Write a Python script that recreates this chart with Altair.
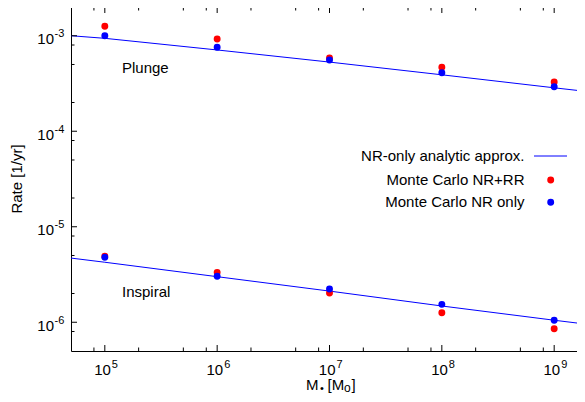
import altair as alt
import pandas as pd

# ---------------- data ----------------
mass = [1e5, 1e6, 1e7, 1e8, 1e9]
plunge_rr = [1.26e-3, 9.25e-4, 5.85e-4, 4.67e-4, 3.28e-4]
plunge_nr = [1.0e-3, 7.57e-4, 5.57e-4, 4.1e-4, 2.93e-4]
inspiral_rr = [4.9e-6, 3.33e-6, 2.02e-6, 1.26e-6, 8.55e-7]
inspiral_nr = [4.79e-6, 3.03e-6, 2.23e-6, 1.54e-6, 1.05e-6]

line_mass = [5e4, 1e5, 1e6, 1e7, 1e8, 1e9, 2e9]
plunge_line = [1.0e-3, 9.4e-4, 7.1e-4, 5.3e-4, 3.9e-4, 2.85e-4, 2.6e-4]
inspiral_line = [4.7e-6, 4.25e-6, 3.0e-6, 2.12e-6, 1.48e-6, 1.05e-6, 9.5e-7]

x_major = [1e5, 1e6, 1e7, 1e8, 1e9]
x_exp = ["5", "6", "7", "8", "9"]
x_minor = [8e4, 2e5, 5e5, 8e5, 2e6, 5e6, 8e6, 2e7, 5e7, 8e7, 2e8, 5e8, 8e8]
y_major = [1e-6, 1e-5, 1e-4, 1e-3]
y_exp = ["-6", "-5", "-4", "-3"]
y_minor = [8e-7, 2e-6, 5e-6, 8e-6, 2e-5, 5e-5, 8e-5, 2e-4, 5e-4, 8e-4]

legend_labels = ["NR-only analytic approx.", "Monte Carlo NR+RR", "Monte Carlo NR only"]
annotations = ["Plunge", "Inspiral"]
x_title = "M• [Mₒ]"
y_title = "Rate [1/yr]"

RED = "#ff0000"
BLUE = "#0000ff"
W, H = 517, 344
FONT = "Liberation Sans"

xs = alt.Scale(type="log", domain=[5e4, 2e9], nice=False)
ys = alt.Scale(type="log", domain=[5e-7, 2e-3], nice=False)

def X(f="m"):
    return alt.X(f"{f}:Q", scale=xs, axis=None)

def Y(f="r"):
    return alt.Y(f"{f}:Q", scale=ys, axis=None)

layers = []

# analytic lines
df_line = pd.DataFrame({
    "m": line_mass + line_mass,
    "r": plunge_line + inspiral_line,
    "g": ["plunge"] * len(line_mass) + ["inspiral"] * len(line_mass),
})
layers.append(alt.Chart(df_line).mark_line(color=BLUE, strokeWidth=1, clip=True).encode(
    x=X(), y=Y(), detail="g:N"))

# Monte Carlo points (red beneath blue)
df_rr = pd.DataFrame({"m": mass + mass, "r": plunge_rr + inspiral_rr})
df_nr = pd.DataFrame({"m": mass + mass, "r": plunge_nr + inspiral_nr})
layers.append(alt.Chart(df_rr).mark_circle(color=RED, size=48, opacity=1).encode(x=X(), y=Y()))
layers.append(alt.Chart(df_nr).mark_circle(color=BLUE, size=48, opacity=1).encode(x=X(), y=Y()))

# ticks (inward, mirrored)
def xticks(vals, length):
    d = alt.Chart(pd.DataFrame({"m": vals}))
    return [
        d.mark_rule(color="black", strokeWidth=1).encode(x=X(), y=alt.value(H), y2=alt.value(H - length)),
        d.mark_rule(color="black", strokeWidth=1).encode(x=X(), y=alt.value(0), y2=alt.value(length)),
    ]

def yticks(vals, length):
    d = alt.Chart(pd.DataFrame({"r": vals}))
    return [
        d.mark_rule(color="black", strokeWidth=1).encode(y=Y(), x=alt.value(0), x2=alt.value(length)),
        d.mark_rule(color="black", strokeWidth=1).encode(y=Y(), x=alt.value(W), x2=alt.value(W - length)),
    ]

layers += xticks(x_major, 6) + xticks(x_minor, 3.5) + yticks(y_major, 6) + yticks(y_minor, 3.5)

# tick labels with exponents
dxl = alt.Chart(pd.DataFrame({"m": x_major, "e": x_exp}))
layers.append(dxl.mark_text(align="right", baseline="alphabetic", dx=6, fontSize=15, color="black").encode(
    x=X(), y=alt.value(H + 24), text=alt.value("10")))
layers.append(dxl.mark_text(align="left", baseline="alphabetic", dx=7, fontSize=11, color="black").encode(
    x=X(), y=alt.value(H + 16.5), text="e:N"))

dyl = alt.Chart(pd.DataFrame({"r": y_major, "e": y_exp}))
layers.append(dyl.mark_text(align="right", baseline="alphabetic", dy=8.5, fontSize=15, color="black").encode(
    y=Y(), x=alt.value(-17), text=alt.value("10")))
layers.append(dyl.mark_text(align="left", baseline="alphabetic", dy=1.5, fontSize=11, color="black").encode(
    y=Y(), x=alt.value(-16.5), text="e:N"))

# axis titles
layers.append(alt.Chart(pd.DataFrame({"t": [y_title]})).mark_text(
    angle=270, align="center", baseline="middle", fontSize=15, color="black").encode(
    x=alt.value(-54), y=alt.value(H / 2), text="t:N"))

xt = alt.Chart(pd.DataFrame({"t": [x_title]}))
layers.append(xt.mark_text(align="left", baseline="alphabetic", fontSize=15, color="black").encode(
    x=alt.value(235), y=alt.value(H + 39), text=alt.value("M")))
layers.append(xt.mark_text(align="center", baseline="alphabetic", fontSize=11, color="black").encode(
    x=alt.value(251), y=alt.value(H + 40.5), text=alt.value("•")))
layers.append(xt.mark_text(align="left", baseline="alphabetic", fontSize=15, color="black").encode(
    x=alt.value(256.5), y=alt.value(H + 39), text=alt.value("[M")))
layers.append(xt.mark_text(align="left", baseline="alphabetic", fontSize=12, color="black").encode(
    x=alt.value(273), y=alt.value(H + 40.5), text=alt.value("o")))
layers.append(xt.mark_text(align="left", baseline="alphabetic", fontSize=15, color="black").encode(
    x=alt.value(280.5), y=alt.value(H + 39), text=alt.value("]")))

# annotations
layers.append(alt.Chart(pd.DataFrame({"t": [annotations[0]]})).mark_text(
    align="left", baseline="middle", fontSize=15, color="black").encode(
    x=alt.value(51), y=alt.value(61), text="t:N"))
layers.append(alt.Chart(pd.DataFrame({"t": [annotations[1]]})).mark_text(
    align="left", baseline="middle", fontSize=15, color="black").encode(
    x=alt.value(51), y=alt.value(284.5), text="t:N"))

# legend
leg_y = [149, 173, 195.3]
for lab, yy in zip(legend_labels, leg_y):
    layers.append(alt.Chart(pd.DataFrame({"t": [lab]})).mark_text(
        align="right", baseline="middle", fontSize=15, color="black").encode(
        x=alt.value(453.5), y=alt.value(yy), text="t:N"))
layers.append(alt.Chart(pd.DataFrame({"t": [legend_labels[0]]})).mark_rule(color=BLUE, strokeWidth=1).encode(
    x=alt.value(463), x2=alt.value(496), y=alt.value(leg_y[0])))
layers.append(alt.Chart(pd.DataFrame({"t": [legend_labels[1]]})).mark_circle(color=RED, size=48, opacity=1).encode(
    x=alt.value(479.7), y=alt.value(leg_y[1])))
layers.append(alt.Chart(pd.DataFrame({"t": [legend_labels[2]]})).mark_circle(color=BLUE, size=48, opacity=1).encode(
    x=alt.value(479.7), y=alt.value(leg_y[2])))

chart = alt.layer(*layers).properties(
    width=W, height=H,
    padding={"left": 63, "top": -1, "right": -11, "bottom": 43},
    autosize=alt.AutoSizeParams(type="none"),
).configure(font=FONT).configure_view(stroke="black", strokeWidth=1)

chart.save("out.html", embed_options={"renderer": "svg", "actions": False})
